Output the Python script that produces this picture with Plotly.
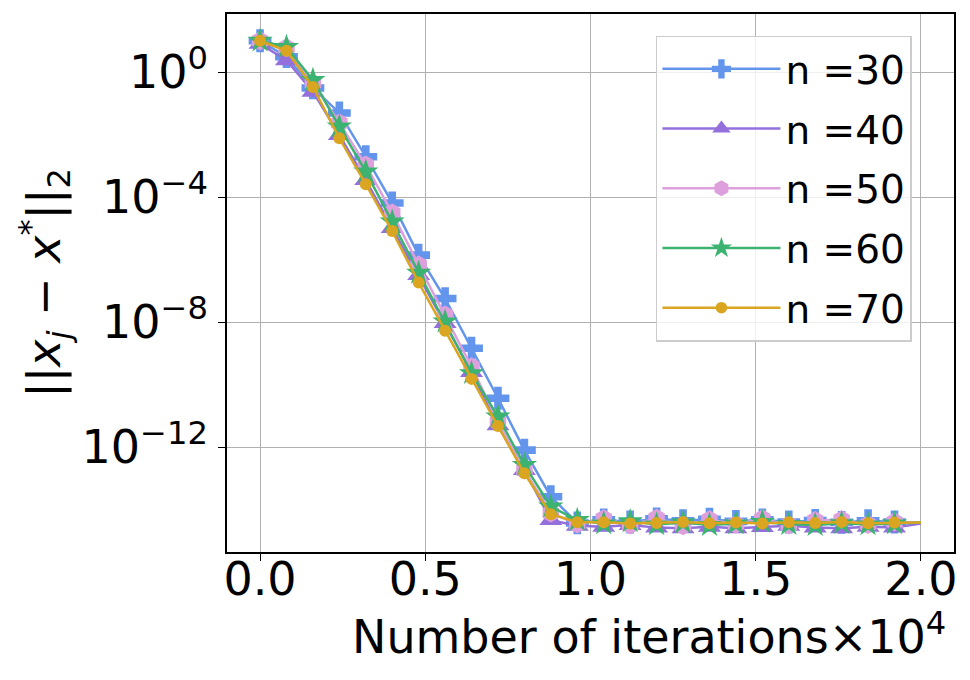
import numpy as np
import plotly.graph_objects as go

# iterations (x 10^4); last point is the end of the run, drawn without a marker
iters = [0.00, 0.08, 0.16, 0.24, 0.32, 0.40, 0.48, 0.56, 0.64, 0.72, 0.80, 0.88, 0.96,
         1.04, 1.12, 1.20, 1.28, 1.36, 1.44, 1.52, 1.60, 1.68, 1.76, 1.84, 1.92, 2.00]

# log10 of ||x_j - x*||_2
err_n30 = [1.00, 0.49, -0.51, -1.31, -2.71, -4.19, -5.86, -7.25, -8.84, -10.44, -12.10, -13.59, -14.43,
           -14.33, -14.40, -14.30, -14.36, -14.31, -14.38, -14.33, -14.40, -14.35, -14.41, -14.36, -14.40, -14.42]
err_n40 = [0.90, 0.38, -0.63, -2.02, -3.46, -4.99, -6.50, -8.03, -9.60, -11.30, -12.74, -14.34, -14.52,
           -14.55, -14.50, -14.58, -14.60, -14.55, -14.60, -14.56, -14.52, -14.58, -14.60, -14.55, -14.58, -14.45]
err_n50 = [1.00, 0.78, -0.35, -1.63, -2.98, -4.51, -6.18, -7.78, -9.43, -11.19, -12.74, -14.11, -14.46,
           -14.30, -14.50, -14.28, -14.52, -14.33, -14.47, -14.30, -14.50, -14.35, -14.33, -14.48, -14.40, -14.42]
err_n60 = [1.00, 0.80, -0.26, -1.75, -3.19, -4.79, -6.43, -7.99, -9.64, -11.03, -12.58, -13.91, -14.34,
           -14.45, -14.38, -14.48, -14.42, -14.50, -14.45, -14.40, -14.47, -14.50, -14.44, -14.48, -14.45, -14.42]
err_n70 = [1.00, 0.68, -0.48, -2.12, -3.59, -5.09, -6.74, -8.28, -9.82, -11.33, -12.84, -14.15, -14.41,
           -14.41, -14.45, -14.43, -14.40, -14.44, -14.42, -14.45, -14.41, -14.43, -14.40, -14.44, -14.42, -14.42]

labels = ["n =30", "n =40", "n =50", "n =60", "n =70"]
series = [err_n30, err_n40, err_n50, err_n60, err_n70]
colors = ["#6495ED", "#9370DB", "#DDA0DD", "#3CB371", "#DAA520"]
symbols = ["cross", "triangle-up", "hexagon", "star", "circle"]
sizes = [19, 20, 19, 19, 12]

y_ticks = [1, 1e-4, 1e-8, 1e-12]
y_ticktext = ["10<sup>0</sup>", "10<sup>−4</sup>", "10<sup>−8</sup>", "10<sup>−12</sup>"]
x_ticks = [0.0, 0.5, 1.0, 1.5, 2.0]

fig = go.Figure()
for name, vals, c, sym, sz in zip(labels, series, colors, symbols, sizes):
    msize = [sz] * (len(iters) - 1) + [0]
    fig.add_trace(go.Scatter(
        x=iters, y=10 ** np.array(vals), name=name, mode="lines+markers",
        legendgroup=name,
        line=dict(color=c, width=2.5),
        marker=dict(symbol=sym, size=msize, color=c, opacity=1, line=dict(width=0)),
    ))

axis_common = dict(showline=True, linecolor="black", linewidth=1.5, mirror=True,
                   ticks="outside", ticklen=7, tickwidth=1.2, tickcolor="black",
                   showgrid=True, gridcolor="#b0b0b0", gridwidth=1.3, zeroline=False,
                   automargin=False, tickfont=dict(size=46, color="black"))

fig.update_xaxes(range=[-0.1, 2.1], tickvals=x_ticks, tickformat=".1f",
                 ticklabelstandoff=-21, **axis_common)
fig.update_yaxes(type="log", range=[-15.36, 1.856], tickvals=y_ticks, ticktext=y_ticktext,
                 ticklabelstandoff=1, **axis_common)

fig.add_annotation(text="Number of iterations×10<sup>4</sup>", xref="paper", yref="paper",
                   x=0.992, y=-0.1515, xanchor="right", yanchor="middle", showarrow=False,
                   font=dict(size=46, color="black"))
fig.add_annotation(text="||<i>x<sub>j</sub></i> − <i>x</i><sup>*</sup>||<sub>2</sub>",
                   xref="paper", yref="paper", x=-0.252, y=0.5, textangle=-90,
                   xanchor="center", yanchor="middle", showarrow=False,
                   font=dict(size=46, color="black"))

fig.update_layout(
    width=970, height=680,
    margin=dict(l=219, r=24, t=6, b=136),
    paper_bgcolor="white", plot_bgcolor="white",
    font=dict(family="DejaVu Sans", color="black"),
    legend=dict(x=0.59, y=0.96, xanchor="left", yanchor="top",
                bgcolor="rgba(255,255,255,0.8)", bordercolor="#cccccc", borderwidth=1.5,
                font=dict(size=39, color="black"), itemwidth=118, tracegroupgap=6),
    showlegend=True,
)

fig.write_html("out.html")
